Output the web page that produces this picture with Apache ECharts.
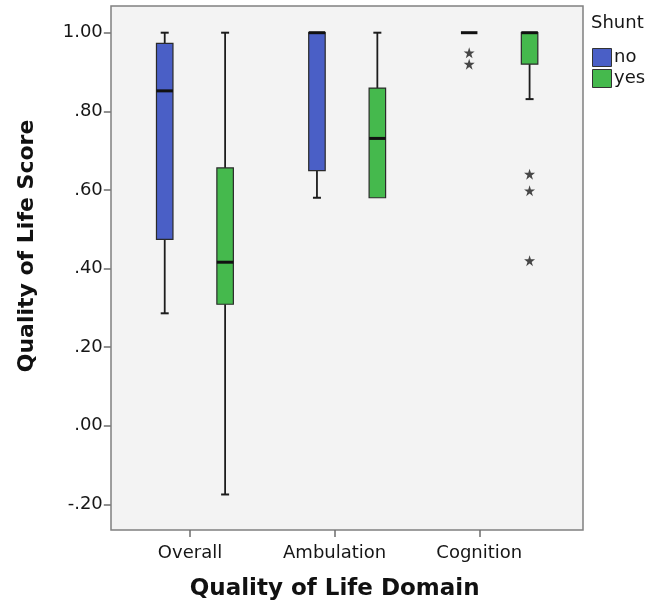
<!DOCTYPE html>
<html>
<head>
<meta charset="utf-8">
<script src="https://cdn.jsdelivr.net/npm/echarts@6/dist/echarts.min.js"></script>
<style>
  html, body { margin: 0; padding: 0; background: #ffffff; }
  #chart { width: 649px; height: 608px; }
</style>
</head>
<body>
<div id="chart"></div>
<script>
// Quality of life domains on the category axis
const domains = ['Overall', 'Ambulation', 'Cognition'];
const groups = ['no', 'yes'];

// Five-number summaries per domain: [min, Q1, median, Q3, max]
const noShunt = [
  [0.286, 0.474, 0.852, 0.973, 1.00],
  [0.580, 0.649, 1.00, 1.00, 1.00],
  [1.00, 1.00, 1.00, 1.00, 1.00]
];
const yesShunt = [
  [-0.175, 0.309, 0.416, 0.656, 1.00],
  [0.580, 0.580, 0.731, 0.859, 1.00],
  [0.831, 0.920, 1.00, 1.00, 1.00]
];

// Extreme values: [domain index, score]
const noExtremes = [[2, 0.949], [2, 0.920]];
const yesExtremes = [[2, 0.640], [2, 0.598], [2, 0.420]];

// Score axis tick labels, from -.20 up to 1.00
const scoreTicks = ['-.20', '.00', '.20', '.40', '.60', '.80', '1.00'];

const FONT = 'DejaVu Sans';
const INK = '#1c1c1c';
const TEXT = '#161616';
const STAR = 'path://M50,0 L61.2,34.5 L97.6,34.5 L68.2,55.9 L79.4,90.5 L50,69.1 L20.6,90.5 L31.8,55.9 L2.4,34.5 L38.8,34.5 Z';

// Box-and-whisker glyph drawn at the category centre, shifted sideways per group
function boxGlyph(shift, fill) {
  return function (params, api) {
    const cat = api.value(0);
    const pMin = api.coord([cat, api.value(1)]);
    const pQ1 = api.coord([cat, api.value(2)]);
    const pMed = api.coord([cat, api.value(3)]);
    const pQ3 = api.coord([cat, api.value(4)]);
    const pMax = api.coord([cat, api.value(5)]);
    const x = pMed[0] + shift;
    const hw = 8.25;   // half box width
    const cw = 4;      // half cap width
    const whisker = { stroke: INK, lineWidth: 1.8 };
    const children = [];
    if (pQ3[1] - pMax[1] > 0.5) {
      children.push({ type: 'line', shape: { x1: x, y1: pMax[1], x2: x, y2: pQ3[1] }, style: whisker });
      children.push({ type: 'line', shape: { x1: x - cw, y1: pMax[1], x2: x + cw, y2: pMax[1] }, style: { stroke: INK, lineWidth: 2 } });
    }
    if (pMin[1] - pQ1[1] > 0.5) {
      children.push({ type: 'line', shape: { x1: x, y1: pQ1[1], x2: x, y2: pMin[1] }, style: whisker });
      children.push({ type: 'line', shape: { x1: x - cw, y1: pMin[1], x2: x + cw, y2: pMin[1] }, style: { stroke: INK, lineWidth: 2 } });
    }
    if (pQ1[1] - pQ3[1] > 0.5) {
      children.push({
        type: 'rect',
        shape: { x: x - hw, y: pQ3[1], width: hw * 2, height: pQ1[1] - pQ3[1] },
        style: { fill: fill, stroke: '#2a2a2a', lineWidth: 1.2 }
      });
    }
    children.push({ type: 'line', shape: { x1: x - hw, y1: pMed[1], x2: x + hw, y2: pMed[1] }, style: { stroke: '#111111', lineWidth: 3 } });
    return { type: 'group', children: children };
  };
}

const toRows = (stats) => stats.map((s, i) => [i].concat(s));

const chart = echarts.init(document.getElementById('chart'), null, { renderer: 'canvas' });

chart.setOption({
  animation: false,
  backgroundColor: '#ffffff',
  textStyle: { fontFamily: FONT },
  title: {
    text: 'Shunt',
    left: 591,
    top: 14,
    padding: 0,
    textStyle: { fontFamily: FONT, fontSize: 18, fontWeight: 'normal', color: TEXT }
  },
  legend: {
    data: groups,
    orient: 'vertical',
    left: 592,
    top: 48,
    padding: 0,
    itemGap: 2,
    itemWidth: 19,
    itemHeight: 18,
    icon: 'rect',
    itemStyle: { borderColor: '#333333', borderWidth: 1 },
    textStyle: { fontFamily: FONT, fontSize: 18, color: TEXT, padding: [0, 0, 0, -2.5] },
    selectedMode: false
  },
  graphic: [{
    type: 'text',
    x: 27,
    y: 246,
    rotation: Math.PI / 2,
    style: {
      text: 'Quality of Life Score',
      fontFamily: FONT,
      fontSize: 22,
      fontWeight: 'bold',
      fill: '#111111',
      textAlign: 'center',
      textVerticalAlign: 'middle'
    }
  }],
  grid: [
    // plot frame
    { left: 111, top: 6, right: 66, bottom: 78, show: true, backgroundColor: '#f3f3f3', borderColor: '#808080', borderWidth: 1.5 },
    // domain labels along the bottom edge
    { left: 117.7, right: 97.4, top: 6, bottom: 78 },
    // boxes and score axis
    { left: 118.8, right: 73.5, top: 32.7, bottom: 103.7 }
  ],
  xAxis: [
    { gridIndex: 0, type: 'value', show: false },
    {
      gridIndex: 1,
      type: 'category',
      data: domains,
      axisLine: { show: false },
      axisTick: { show: true, alignWithLabel: true, length: 7, lineStyle: { color: '#6e6e6e', width: 1.5 } },
      axisLabel: { margin: 14, fontFamily: FONT, fontSize: 18, color: TEXT },
      splitLine: { show: false },
      name: 'Quality of Life Domain',
      nameLocation: 'middle',
      nameGap: 48,
      nameTextStyle: { fontFamily: FONT, fontSize: 23, fontWeight: 'bold', color: '#111111' }
    },
    { gridIndex: 2, type: 'category', data: domains, show: false }
  ],
  yAxis: [
    { gridIndex: 0, type: 'value', show: false },
    { gridIndex: 1, type: 'value', show: false },
    {
      gridIndex: 2,
      type: 'value',
      min: -0.2,
      max: 1.0,
      interval: 0.2,
      offset: 8,
      axisLine: { show: false },
      axisTick: { show: true, length: 7, lineStyle: { color: '#6e6e6e', width: 1.5 } },
      splitLine: { show: false },
      axisLabel: {
        margin: 8,
        fontFamily: FONT,
        fontSize: 18,
        color: TEXT,
        formatter: (v) => scoreTicks[Math.round((v + 0.2) / 0.2)]
      }
    }
  ],
  series: [
    {
      name: 'no',
      type: 'custom',
      xAxisIndex: 2,
      yAxisIndex: 2,
      itemStyle: { color: '#4a5fc6' },
      encode: { x: 0, y: [1, 2, 3, 4, 5] },
      renderItem: boxGlyph(-30.2, '#4a5fc6'),
      data: toRows(noShunt)
    },
    {
      name: 'yes',
      type: 'custom',
      xAxisIndex: 2,
      yAxisIndex: 2,
      itemStyle: { color: '#45b94d' },
      encode: { x: 0, y: [1, 2, 3, 4, 5] },
      renderItem: boxGlyph(30.2, '#45b94d'),
      data: toRows(yesShunt)
    },
    {
      name: 'no extremes',
      type: 'scatter',
      xAxisIndex: 2,
      yAxisIndex: 2,
      symbol: STAR,
      symbolSize: 11,
      symbolOffset: [-30.2, 0],
      itemStyle: { color: '#1a1a1a' },
      data: noExtremes
    },
    {
      name: 'yes extremes',
      type: 'scatter',
      xAxisIndex: 2,
      yAxisIndex: 2,
      symbol: STAR,
      symbolSize: 11,
      symbolOffset: [30.2, 0],
      itemStyle: { color: '#1a1a1a' },
      data: yesExtremes
    }
  ]
});
</script>
</body>
</html>
